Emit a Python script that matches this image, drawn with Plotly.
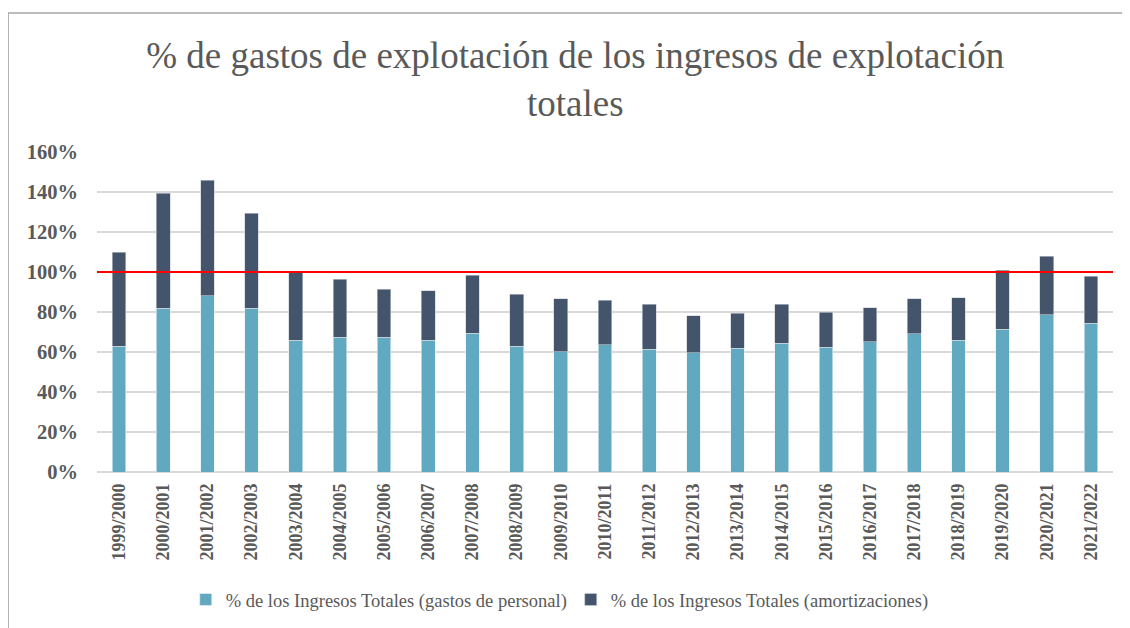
import plotly.graph_objects as go

categories = ["1999/2000", "2000/2001", "2001/2002", "2002/2003", "2003/2004", "2004/2005",
              "2005/2006", "2006/2007", "2007/2008", "2008/2009", "2009/2010", "2010/2011",
              "2011/2012", "2012/2013", "2013/2014", "2014/2015", "2015/2016", "2016/2017",
              "2017/2018", "2018/2019", "2019/2020", "2020/2021", "2021/2022"]

personal = [62.8, 82.0, 88.2, 82.0, 65.8, 67.5, 67.3, 66.0, 69.5, 63.0, 60.2, 63.7,
            61.5, 59.7, 62.0, 64.5, 62.5, 65.2, 69.2, 66.0, 71.5, 78.7, 74.3]
totals = [110.0, 139.5, 145.8, 129.5, 100.3, 96.5, 91.3, 90.7, 98.5, 88.8, 86.7, 86.0,
          83.8, 78.2, 79.5, 83.8, 80.0, 82.2, 86.7, 87.2, 101.0, 107.8, 98.0]
amortizaciones = [round(t - p, 1) for t, p in zip(totals, personal)]

y_ticks = [0, 20, 40, 60, 80, 100, 120, 140, 160]
threshold = 100

title_text = "% de gastos de explotación de los ingresos de explotación<br>totales"
name_personal = "% de los Ingresos Totales (gastos de personal)"
name_amort = "% de los Ingresos Totales (amortizaciones)"

serif = "'Times New Roman', 'Liberation Serif', 'DejaVu Serif', serif"
grey = "#595959"

fig = go.Figure()
fig.add_trace(go.Bar(x=categories, y=personal, name=name_personal,
                     marker=dict(color="#61A8C1", line=dict(color="#e8f1f5", width=0.6))))
fig.add_trace(go.Bar(x=categories, y=amortizaciones, name=name_amort,
                     marker=dict(color="#44546A", line=dict(color="#c9ced6", width=0.6))))

fig.add_shape(type="line", xref="paper", yref="y", x0=0, x1=1, y0=threshold, y1=threshold,
              line=dict(color="#ff0000", width=2))

# outer chart frame
fig.add_shape(type="rect", xref="paper", yref="paper", x0=-0.0875, x1=1.2, y0=-0.6, y1=1.434,
              line=dict(color="#a6a6a6", width=1.5), fillcolor="rgba(0,0,0,0)", layer="below")

fig.update_layout(
    width=1130, height=628,
    margin=dict(l=89, r=25, t=144, b=164, autoexpand=False),
    paper_bgcolor="white", plot_bgcolor="white",
    barmode="stack", bargap=0.69,
    title=dict(text=title_text, x=0.502, xref="container", xanchor="center",
               y=0.904, yref="container", yanchor="top",
               font=dict(family=serif, size=37, color=grey)),
    font=dict(family=serif, color=grey),
    showlegend=True,
    legend=dict(orientation="h", x=0.498, xref="container", xanchor="center",
                y=-0.4, yanchor="middle",
                font=dict(family=serif, size=18.5, color=grey), itemwidth=30,
                entrywidth=340, entrywidthmode="pixels",
                traceorder="normal"),
    xaxis=dict(tickangle=-90, tickfont=dict(family=serif, size=18, color=grey, weight="bold"),
               showgrid=False, showline=False, ticks="", automargin=False,
               ticklabelstandoff=7, range=[-0.5, len(categories) - 0.5]),
    yaxis=dict(range=[0, 160], tickvals=y_ticks, ticktext=[f"{v}%" for v in y_ticks],
               tickfont=dict(family=serif, size=20.5, color=grey, weight="bold"),
               showgrid=True, gridcolor="#d9d9d9", gridwidth=1.5,
               zeroline=True, zerolinecolor="#d9d9d9", zerolinewidth=1.5,
               showline=False, ticks="", ticklabelstandoff=18, automargin=False),
)

fig.write_html("out.html")
